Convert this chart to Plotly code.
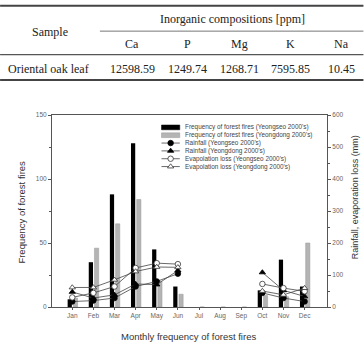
import plotly.graph_objects as go

# ---------------- data ----------------
months = ["Jan", "Feb", "Mar", "Apr", "May", "Jun", "Jul", "Aug", "Sep", "Oct", "Nov", "Dec"]
month_idx = list(range(1, 13))

fires_yeongseo = [6, 35, 88, 128, 45, 16, 0, 0, 0, 13, 37, 16]
fires_yeongdong = [7, 46, 65, 84, 20, 10, 0, 0, 0, 9, 8, 50]

rain_yeongseo = [17, 20, 28, 64, 80, 104, None, None, None, 44, 28, 17]
rain_yeongdong = [47, 28, 38, 72, 70, 114, None, None, None, 108, 52, 33]
evap_yeongseo = [30, 44, 64, 122, 137, 134, None, None, None, 72, 59, 49]
evap_yeongdong = [61, 61, 85, 111, 125, 124, None, None, None, 50, 38, 59]

legend_labels = [
    "Frequency of forest fires (Yeongseo 2000's)",
    "Frequency of forest fires (Yeongdong 2000's)",
    "Rainfall (Yeongseo 2000's)",
    "Rainfall (Yeongdong 2000's)",
    "Evapolation loss (Yeongseo 2000's)",
    "Evapolation loss (Yeongdong 2000's)",
]

table_group_header = "Inorganic compositions [ppm]"
table_row_header = "Sample"
table_columns = ["Ca", "P", "Mg", "K", "Na"]
table_sample = "Oriental oak leaf"
table_values = ["12598.59", "1249.74", "1268.71", "7595.85", "10.45"]

# ---------------- geometry helpers (pixel -> paper) ----------------
W, H = 364, 344
L, R, T, B = 52, 327.5, 115, 307.3


def px(x):
    return (x - L) / (R - L)


def py(y):
    return (B - y) / (B - T)


AX = "#555555"
TXT = "#333333"
SANS = "Liberation Sans, Arial, sans-serif"
SERIF = "Liberation Serif, Times New Roman, serif"


def note(x, y, text, font, xanchor="center", angle=0):
    return dict(x=px(x), y=py(y), xref="paper", yref="paper", text=text,
                showarrow=False, xanchor=xanchor, yanchor="middle", textangle=angle,
                font=font)


fig = go.Figure()

# bars
fig.add_trace(go.Bar(x=month_idx, y=fires_yeongseo, width=0.2, offset=-0.22,
                     marker=dict(color="#000000", line=dict(width=0)), showlegend=False))
fig.add_trace(go.Bar(x=month_idx, y=fires_yeongdong, width=0.2, offset=0.05,
                     marker=dict(color="#b4b4b4", line=dict(color="#9a9a9a", width=0.5)),
                     showlegend=False))

line_style = dict(color="#444444", width=0.8)
series = [
    (rain_yeongseo, "circle", "#000000", "#000000"),
    (rain_yeongdong, "triangle-up", "#000000", "#000000"),
    (evap_yeongseo, "circle", "#ffffff", "#333333"),
    (evap_yeongdong, "triangle-up", "#ffffff", "#333333"),
]
for vals, sym, fill, edge in series:
    fig.add_trace(go.Scatter(
        x=month_idx, y=vals, yaxis="y2", mode="lines+markers",
        line=line_style, connectgaps=False,
        marker=dict(symbol=sym, size=5.5, color=fill, line=dict(color=edge, width=0.8)),
        showlegend=False))

# legend (manual, inside plot top-right)
leg_x0, leg_x1 = 161.7, 180.0
leg_text_x = 183.5
leg_y0, leg_dy = 127.4, 7.85
shapes = []
annotations = []
legfont = dict(family=SANS, size=6.4, color="#444444")
for i, lab in enumerate(legend_labels):
    yc = leg_y0 + i * leg_dy
    annotations.append(note(leg_text_x, yc, lab, legfont, xanchor="left"))
    if i < 2:
        shapes.append(dict(type="rect", xref="paper", yref="paper",
                           x0=px(leg_x0), x1=px(leg_x1), y0=py(yc + 2.4), y1=py(yc - 2.4),
                           fillcolor="#000000" if i == 0 else "#b4b4b4",
                           line=dict(width=0.5, color="#000000" if i == 0 else "#9a9a9a")))
# legend line samples on an auxiliary hidden axis
for i, (vals, sym, fill, edge) in enumerate(series):
    yc = leg_y0 + (i + 2) * leg_dy
    fig.add_trace(go.Scatter(
        x=[px(leg_x0), px((leg_x0 + leg_x1) / 2), px(leg_x1)],
        y=[py(yc)] * 3, xaxis="x3", yaxis="y3", mode="lines",
        line=line_style, showlegend=False, hoverinfo="skip"))
    fig.add_trace(go.Scatter(
        x=[px((leg_x0 + leg_x1) / 2)], y=[py(yc)], xaxis="x3", yaxis="y3", mode="markers",
        marker=dict(symbol=sym, size=5.5, color=fill, line=dict(color=edge, width=0.8)),
        showlegend=False, hoverinfo="skip"))

# axis titles
annotations.append(note(21.7, 212, "Frequency of forest fires",
                        dict(family=SANS, size=9.5, color=TXT), angle=-90))
annotations.append(note(355, 197, "Rainfall, evaporation loss (mm)",
                        dict(family=SANS, size=9, color=TXT), angle=-90))
annotations.append(note(189, 336.5, "Monthly frequency of forest fires",
                        dict(family=SANS, size=9.5, color=TXT)))

# ---------------- table (top) ----------------
col_x = [132.5, 187.7, 240.0, 291.0, 341.7]
tfont = dict(family=SERIF, size=12, color="#222222")
annotations.append(note(50, 31.5, table_row_header, tfont))
annotations.append(note(233, 19, table_group_header, tfont))
for cx, c in zip(col_x, table_columns):
    annotations.append(note(cx, 43.5, c, tfont))
annotations.append(note(48, 69, table_sample, tfont))
for cx, v in zip(col_x, table_values):
    annotations.append(note(cx, 69, v, tfont))

shapes += [
    dict(type="line", xref="paper", yref="paper", x0=px(0), x1=px(364), y0=py(5.5), y1=py(5.5),
         line=dict(color="#444444", width=2)),
    dict(type="line", xref="paper", yref="paper", x0=px(100), x1=px(364), y0=py(31), y1=py(31),
         line=dict(color="#777777", width=1)),
    dict(type="line", xref="paper", yref="paper", x0=px(0), x1=px(364), y0=py(54.5), y1=py(54.5),
         line=dict(color="#555555", width=1.2)),
    dict(type="line", xref="paper", yref="paper", x0=px(0), x1=px(364), y0=py(80), y1=py(80),
         line=dict(color="#444444", width=2)),
]

tickfont = dict(family=SANS, size=6.5, color="#666666")
fig.update_layout(
    width=W, height=H,
    margin=dict(l=L, r=W - R, t=T, b=H - B, pad=0),
    paper_bgcolor="white", plot_bgcolor="white",
    barmode="overlay",
    showlegend=False,
    xaxis=dict(range=[0.04, 13.06], tickvals=month_idx, ticktext=months,
               showgrid=False, zeroline=False, showline=True, linecolor=AX, linewidth=1,
               mirror=True, ticks="outside", ticklen=2, tickcolor=AX, tickfont=tickfont),
    yaxis=dict(range=[0, 150], dtick=50, showgrid=False, zeroline=False, showline=True,
               linecolor=AX, linewidth=1, ticks="outside", ticklen=3, tickcolor=AX,
               tickfont=tickfont, minor=dict(dtick=25, ticks="outside", ticklen=2, tickcolor=AX)),
    yaxis2=dict(range=[0, 600], dtick=100, overlaying="y", side="right", showgrid=False,
                zeroline=False, showline=True, linecolor=AX, linewidth=1, ticks="outside",
                ticklen=3, tickcolor=AX, tickfont=tickfont,
                minor=dict(dtick=50, ticks="outside", ticklen=2, tickcolor=AX)),
    xaxis3=dict(overlaying="x", range=[0, 1], visible=False, fixedrange=True),
    yaxis3=dict(overlaying="y", range=[0, 1], visible=False, fixedrange=True),
    shapes=shapes,
    annotations=annotations,
)

fig.write_html("out.html")
